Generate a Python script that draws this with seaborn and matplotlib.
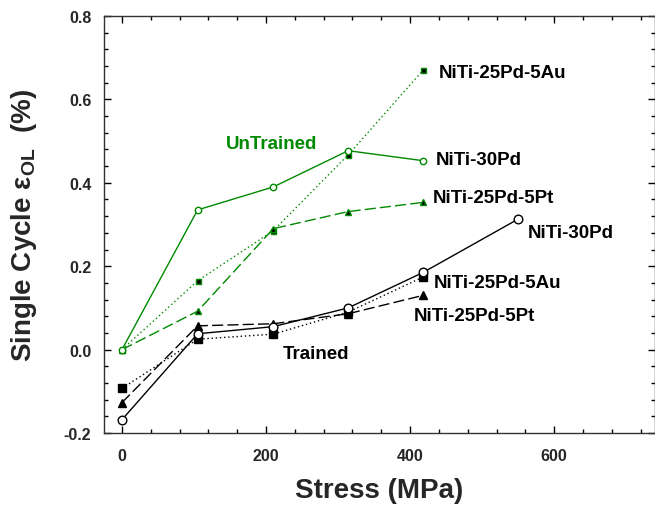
import matplotlib
matplotlib.use("Agg")
import matplotlib.pyplot as plt
from matplotlib.ticker import MultipleLocator
import seaborn as sns
import pandas as pd

# ---- data ----
stress = [0, 105, 210, 314, 418]
stress_t30 = [0, 105, 210, 314, 418, 550]

un_30pd = [0.0, 0.335, 0.390, 0.477, 0.453]
un_25pd5au = [0.0, 0.165, 0.285, 0.467, 0.670]
un_25pd5pt = [0.0, 0.092, 0.290, 0.331, 0.353]

tr_30pd = [-0.168, 0.038, 0.055, 0.100, 0.185, 0.313]
tr_25pd5au = [-0.093, 0.025, 0.037, 0.090, 0.174]
tr_25pd5pt = [-0.127, 0.057, 0.062, 0.086, 0.130]

labels = ["NiTi-25Pd-5Au", "NiTi-30Pd", "NiTi-25Pd-5Pt",
          "NiTi-30Pd", "NiTi-25Pd-5Au", "NiTi-25Pd-5Pt"]
group_labels = ["UnTrained", "Trained"]

sns.set_style("ticks")
plt.rcParams['font.family'] = ['Liberation Sans', 'DejaVu Sans']
plt.rcParams['font.weight'] = 'bold'
plt.rcParams['mathtext.default'] = 'regular'

GREEN = "#008a00"

fig = plt.figure(figsize=(6.55, 5.06), dpi=100)
ax = fig.add_axes([104/655, 1-434/506, 1-104/655, (434-17)/506])

def draw(x, y, color, ls, marker, ms, mfc, mec, lw=1.0):
    df = pd.DataFrame({"x": x, "y": y})
    sns.lineplot(data=df, x="x", y="y", ax=ax, color=color, linestyle=ls,
                 marker=marker, markersize=ms, markerfacecolor=mfc,
                 markeredgecolor=mec, markeredgewidth=1.0, linewidth=lw,
                 sort=False, legend=False)

# untrained (green)
draw(stress, un_25pd5au, GREEN, (0, (1, 2)), "s", 3.6, "black", GREEN)
draw(stress, un_25pd5pt, GREEN, (0, (8, 3)), "^", 4.2, "black", GREEN)
draw(stress, un_30pd, GREEN, "-", "o", 4.6, "white", GREEN)
# trained (black)
draw(stress, tr_25pd5au, "black", (0, (1, 2)), "s", 5.6, "black", "black")
draw(stress, tr_25pd5pt, "black", (0, (8, 3)), "^", 6.2, "black", "black")
draw(stress_t30, tr_30pd, "black", "-", "o", 6.2, "white", "black")

ax.set_xlim(-25, 740)
ax.set_ylim(-0.2, 0.8)
ax.xaxis.set_major_locator(MultipleLocator(200))
ax.xaxis.set_minor_locator(MultipleLocator(40))
ax.yaxis.set_major_locator(MultipleLocator(0.2))
ax.yaxis.set_minor_locator(MultipleLocator(0.04))
ax.set_xticks([0, 200, 400, 600])
ax.set_yticks([-0.2, 0.0, 0.2, 0.4, 0.6, 0.8])
ax.set_yticklabels(["-0.2", "0.0", "0.2", "0.4", "0.6", "0.8"])
ax.tick_params(which="both", direction="in", top=True, right=True,
               labelsize=11.5, width=1.0, color="black")
ax.tick_params(which="major", length=5)
ax.tick_params(axis="x", which="major", pad=11)
ax.tick_params(axis="y", which="major", pad=9)
ax.tick_params(which="minor", length=3)
for lab in ax.get_xticklabels() + ax.get_yticklabels():
    lab.set_fontweight("bold")
for sp in ax.spines.values():
    sp.set_linewidth(1.0)
    sp.set_color("#333333")

ax.set_xlabel("Stress (MPa)", fontsize=20, fontweight="bold", labelpad=10)
ax.set_ylabel("Single Cycle ε$_{\\mathregular{OL}}$  (%)", fontsize=20,
              fontweight="bold", labelpad=18)

fs = 13.5
ax.text(144, 0.495, group_labels[0], color=GREEN, fontsize=fs, fontweight="bold",
        va="center", ha="left")
ax.text(223, -0.009, group_labels[1], color="black", fontsize=fs, fontweight="bold",
        va="center", ha="left")
ax.text(440, 0.664, labels[0], color="black", fontsize=fs, fontweight="bold", va="center")
ax.text(435, 0.456, labels[1], color="black", fontsize=fs, fontweight="bold", va="center")
ax.text(432, 0.364, labels[2], color="black", fontsize=fs, fontweight="bold", va="center")
ax.text(563, 0.280, labels[3], color="black", fontsize=fs, fontweight="bold", va="center")
ax.text(433, 0.160, labels[4], color="black", fontsize=fs, fontweight="bold", va="center")
ax.text(405, 0.082, labels[5], color="black", fontsize=fs, fontweight="bold", va="center")

fig.savefig("out.png", dpi=100)
